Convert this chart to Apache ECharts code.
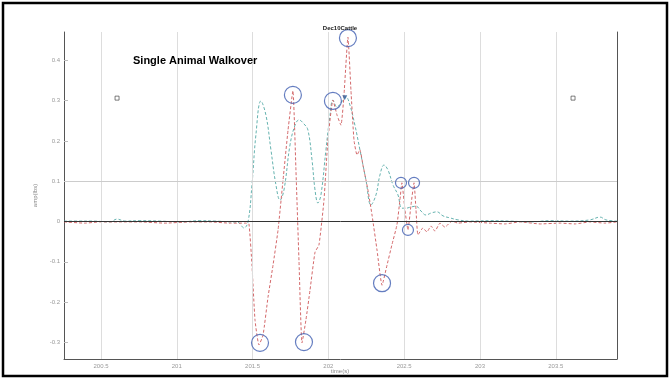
<!DOCTYPE html>
<html><head><meta charset="utf-8">
<script src="https://cdn.jsdelivr.net/npm/echarts@6/dist/echarts.min.js"></script>
<style>html,body{margin:0;padding:0;background:#fff}#c{width:670px;height:379px}</style>
</head><body><div id="c"></div>
<script>
// ---- data (time in s, amplitude) ----
const tealTime = [200.256,200.361,200.441,200.559,200.606,200.658,200.757,200.889,201.021,201.153,201.252,201.351,201.404,201.443,201.470,201.496,201.522,201.555,201.588,201.621,201.654,201.681,201.707,201.747,201.780,201.806,201.839,201.865,201.892,201.912,201.931,201.951,201.984,202.011,202.030,202.057,202.083,202.116,202.142,202.175,202.208,202.248,202.281,202.314,202.340,202.367,202.393,202.426,202.459,202.485,202.512,202.545,202.578,202.611,202.644,202.677,202.716,202.756,202.802,202.855,202.934,203.066,203.198,203.330,203.462,203.594,203.726,203.792,203.831,203.904];
const tealAmp = [0.001,0.001,0.001,-0.001,0.006,0.001,0.002,0.001,-0.001,0.002,0.001,-0.001,-0.002,-0.016,-0.001,0.091,0.215,0.299,0.264,0.178,0.091,0.053,0.078,0.190,0.239,0.252,0.242,0.227,0.153,0.078,0.046,0.066,0.178,0.264,0.301,0.284,0.294,0.309,0.289,0.239,0.178,0.103,0.041,0.066,0.115,0.140,0.128,0.091,0.066,0.033,0.033,0.036,0.038,0.026,0.016,0.021,0.024,0.014,0.009,0.004,0.001,0.002,0.001,-0.001,0.002,0.001,0.004,0.011,0.004,0.001];
const redTime = [200.256,200.394,200.493,200.625,200.757,200.922,201.087,201.219,201.351,201.456,201.476,201.496,201.516,201.542,201.569,201.602,201.635,201.668,201.701,201.734,201.766,201.786,201.806,201.826,201.852,201.879,201.912,201.938,201.971,201.997,202.030,202.057,202.083,202.103,202.129,202.149,202.169,202.189,202.208,202.228,202.261,202.288,202.321,202.354,202.387,202.419,202.452,202.472,202.485,202.505,202.525,202.545,202.565,202.578,202.591,202.624,202.650,202.677,202.703,202.736,202.769,202.815,202.855,202.934,203.066,203.165,203.264,203.396,203.528,203.627,203.726,203.825,203.904];
const redAmp = [-0.001,-0.004,-0.001,-0.001,-0.001,-0.004,-0.001,-0.001,-0.004,-0.004,-0.006,-0.108,-0.244,-0.306,-0.282,-0.187,-0.108,-0.021,0.103,0.227,0.324,0.128,-0.096,-0.301,-0.244,-0.170,-0.076,-0.058,0.053,0.202,0.301,0.264,0.239,0.314,0.457,0.325,0.202,0.165,0.178,0.140,0.078,0.016,-0.071,-0.158,-0.108,-0.058,-0.009,0.053,0.096,0.029,-0.021,0.041,0.096,0.029,-0.033,-0.016,-0.026,-0.011,-0.024,-0.004,-0.014,0.001,-0.004,-0.001,-0.004,-0.006,-0.001,-0.006,-0.004,-0.006,-0.001,-0.004,-0.001];
const bigCircleTime = [201.549,201.839,202.354,201.766,202.030,202.129];
const bigCircleAmp  = [-0.301,-0.299,-0.153,0.314,0.299,0.455];
const smallCircleTime = [202.479,202.525,202.565];
const smallCircleAmp  = [0.096,-0.021,0.096];
const triangleTime = [202.108];
const triangleAmp = [0.307];
const squareTime = [200.606,203.614];
const squareAmp = [0.306,0.306];
const xTicks = [200.5,201,201.5,202,202.5,203,203.5];
const yTicks = [-0.3,-0.2,-0.1,0,0.1,0.2,0.3,0.4];
const xRange = [200.256,203.904];
const yRange = [-0.341,0.47];
const titleText = 'Dec10Cattle';
const annotationText = 'Single Animal Walkover';
const xName = 'time(s)';
const yName = 'amp(lbs)';

const zip = (a,b)=>a.map((v,i)=>[v,b[i]]);
const chart = echarts.init(document.getElementById('c'));
const tickLabelStyle = {fontSize:6, color:'#999', fontFamily:'Liberation Sans'};
chart.setOption({
  animation:false,
  backgroundColor:'#fff',
  grid:{left:64,right:53,top:32,bottom:20,containLabel:false,outerBoundsMode:'none'},
  xAxis:[{
    type:'value', min:xRange[0], max:xRange[1],
    axisLine:{show:true,onZero:false,lineStyle:{color:'#555',width:1}},
    axisTick:{show:true,inside:true,length:5,customValues:xTicks,lineStyle:{color:'#777'}},
    axisLabel:{customValues:xTicks,margin:4,...tickLabelStyle,formatter:v=>String(v)},
    splitLine:{show:false}
  },{
    type:'value', position:'top', min:xRange[0], max:xRange[1],
    axisLine:{show:false},
    axisTick:{show:true,inside:true,length:8,customValues:xTicks,lineStyle:{color:'#999'}},
    axisLabel:{show:false}, splitLine:{show:false}
  }],
  yAxis:[{
    type:'value', min:yRange[0], max:yRange[1],
    axisLine:{show:true,onZero:false,lineStyle:{color:'#555',width:1}},
    axisTick:{show:true,inside:true,length:4,customValues:yTicks,lineStyle:{color:'#bbb'}},
    axisLabel:{customValues:yTicks,margin:4,...tickLabelStyle,formatter:v=>String(v)},
    splitLine:{show:false},
    name:yName,nameLocation:'middle',nameGap:15,nameRotate:90,nameTextStyle:{fontSize:6,color:'#888'}
  },{
    type:'value', position:'right', min:yRange[0], max:yRange[1],
    axisLine:{show:true,onZero:false,lineStyle:{color:'#555',width:1}},
    axisTick:{show:true,inside:true,length:5,customValues:[0.1],lineStyle:{color:'#555'}},
    axisLabel:{show:false}, splitLine:{show:false}
  }],
  graphic:[
    {type:'rect',shape:{x:3,y:3,width:664,height:373},style:{fill:'none',stroke:'#000',lineWidth:2.5},z:100},
    {type:'text',x:340,y:25,style:{text:titleText,font:'bold 6px "Liberation Sans"',fill:'#222',textAlign:'center'},z:50},
    {type:'text',x:340,y:368,style:{text:xName,font:'6px "Liberation Sans"',fill:'#888',textAlign:'center'},z:50},
    {type:'text',x:133,y:55,style:{text:annotationText,font:'bold 11px "Liberation Sans"',fill:'#000'},z:50}
  ],
  series:[
    {type:'line',data:[],silent:true,z:1,
      markLine:{symbol:'none',silent:true,label:{show:false},
        data:[
          ...xTicks.map(v=>({xAxis:v,lineStyle:{color:'#ddd',width:1,type:'solid'}})),
          {yAxis:0.1,lineStyle:{color:'#ccc',width:1,type:'solid'}},
          {yAxis:0,lineStyle:{color:'#333',width:1,type:'solid'}}
        ]}},
    {type:'line',data:zip(tealTime,tealAmp),showSymbol:false,z:3,smooth:0.4,
      lineStyle:{color:'#66b3b0',width:1,type:[3,2]}},
    {type:'line',data:zip(redTime,redAmp),showSymbol:false,z:4,smooth:0.15,
      lineStyle:{color:'#d4696b',width:1,type:[3,2]}},
    {type:'scatter',data:zip(bigCircleTime,bigCircleAmp),symbol:'circle',symbolSize:17,z:5,
      itemStyle:{color:'rgba(0,0,0,0)',borderColor:'#3d5db0',borderWidth:1.2}},
    {type:'scatter',data:zip(smallCircleTime,smallCircleAmp),symbol:'circle',symbolSize:11,z:5,
      itemStyle:{color:'rgba(0,0,0,0)',borderColor:'#3d5db0',borderWidth:1.2}},
    {type:'scatter',data:zip(triangleTime,triangleAmp),symbol:'triangle',symbolRotate:180,symbolSize:5,z:5,
      itemStyle:{color:'#2d5f9a'}},
    {type:'scatter',data:zip(squareTime,squareAmp),symbol:'rect',symbolSize:4,z:5,
      itemStyle:{color:'#fff',borderColor:'#333',borderWidth:0.8}}
  ]
});
</script></body></html>
